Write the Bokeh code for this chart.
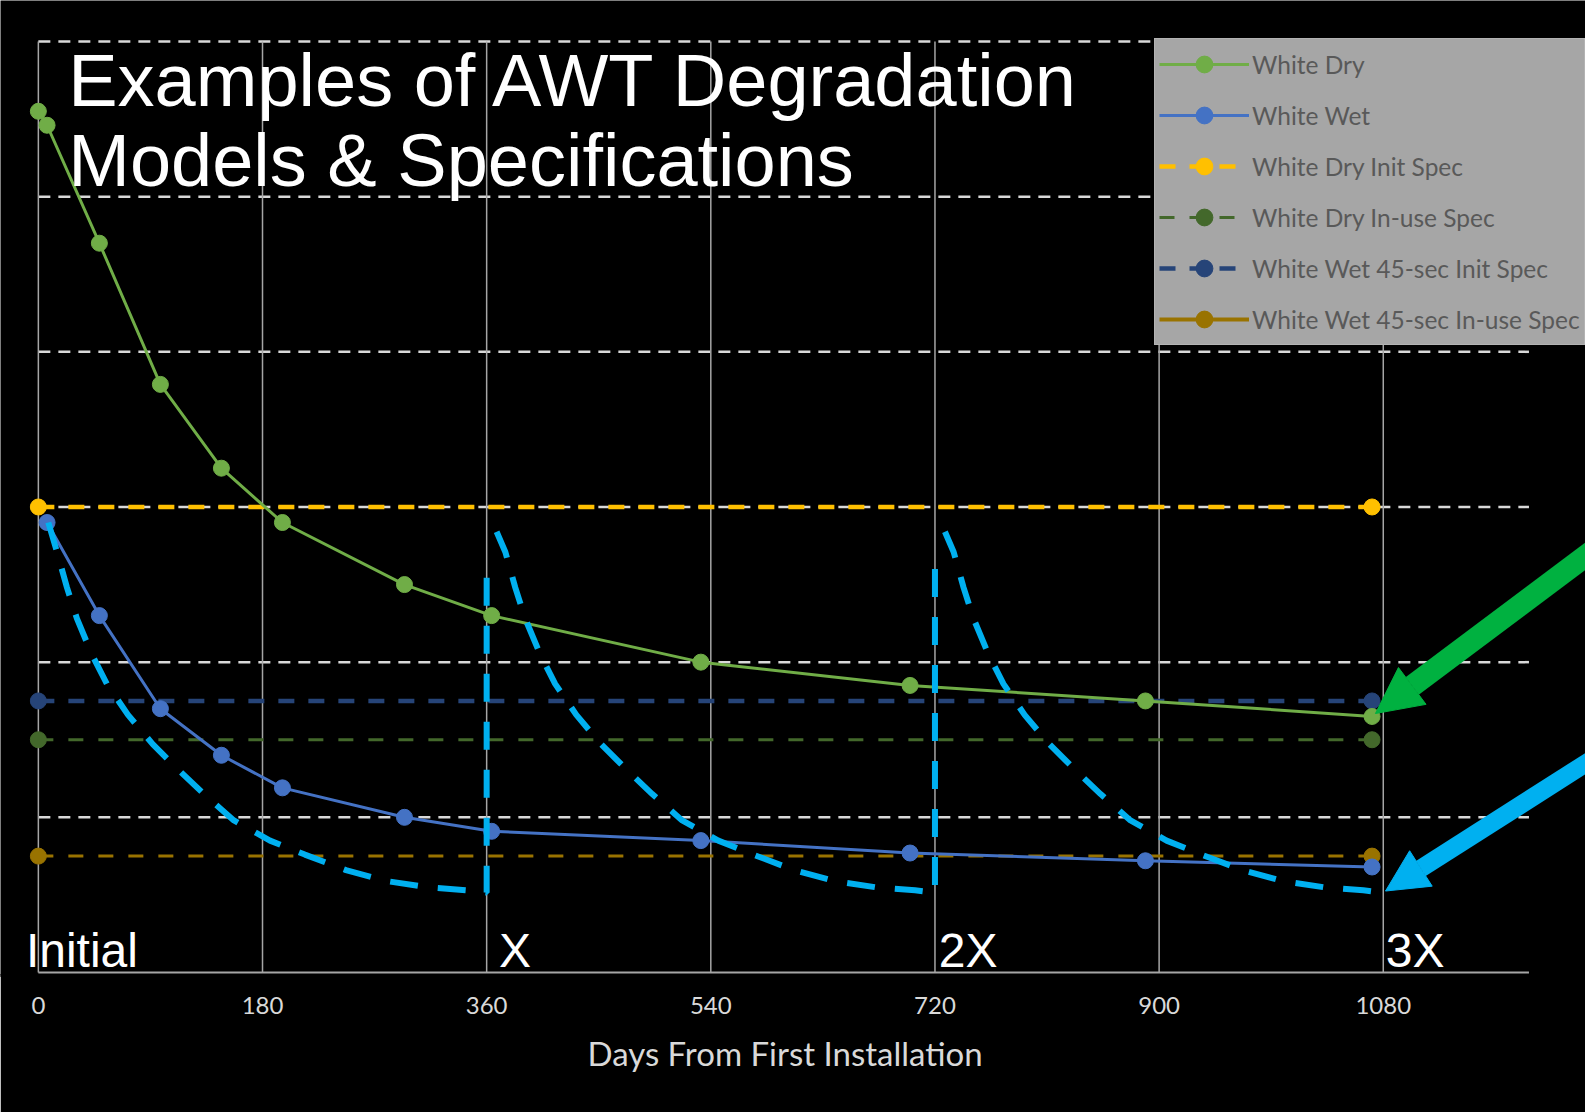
from bokeh.plotting import figure
from bokeh.models import (Range1d, FixedTicker, Legend, LegendItem, Arrow, NormalHead, Label,
                          ColumnDataSource, Title)
from bokeh.embed import file_html
from bokeh.resources import INLINE

# ---------------- data ----------------
dry_days = [0, 7, 49, 98, 147, 196, 294, 364, 532, 700, 889, 1071]
white_dry = [555, 546, 470, 379, 325, 290, 250, 230, 200, 185, 175, 165]
wet_days = [7, 49, 98, 147, 196, 294, 364, 532, 700, 889, 1071]
white_wet = [290, 230, 170, 140, 119, 100, 91, 85, 77, 72, 68]

spec_days = [0, 1071]
dry_init_spec = 300
dry_inuse_spec = 150
wet_init_spec = 175
wet_inuse_spec = 75

tick_days = [0, 180, 360, 540, 720, 900, 1080]
tick_labels = ["0", "180", "360", "540", "720", "900", "1080"]
grid_values = [100, 200, 300, 400, 500, 600]
x_title = "Days From First Installation"

# degradation model sketch (repeated after each reset)
reset_days = [0, 360, 720]
reset_start_vals = [290, 284, 284]
model_days = [8, 15, 23, 31, 43, 55, 72, 92, 112, 133, 157, 186, 214, 247, 279, 312, 344, 360]
model_vals = [290, 271, 248, 228, 205, 186, 166, 147, 131, 115, 98, 85, 76, 66, 59, 55, 53, 51.5]
model_reset_top = 260

phase_labels = ["Initial", "X", "2X", "3X"]
phase_days = [-10, 370, 723, 1082]
phase_y = 14.5

title_lines = ["Examples of AWT Degradation", "Models & Specifications"]
title_x = 24
title_y = [574.6, 523.0]

# arrows: (x_start, y_start, x_end, y_end)
green_arrow = (1254.4, 275.5, 1073.7, 166.9)
cyan_arrow = (1254.4, 140.8, 1081.8, 52.5)

# ---------------- figure ----------------
X0, X1 = -30.4, 1242.4
Y0, Y1 = -1.933, 626.4
AX_END = 1197
p = figure(width=1585, height=1112, x_range=Range1d(X0, X1), y_range=Range1d(Y0, Y1),
           output_backend="svg", toolbar_location=None, y_axis_location=None,
           min_border_left=0, min_border_right=0, min_border_top=0, min_border_bottom=137)
p.background_fill_color = "black"
p.border_fill_color = "black"
p.outline_line_color = None
p.grid.visible = False

ax = p.xaxis[0]
ax.ticker = FixedTicker(ticks=tick_days)
ax.major_label_overrides = {d: s for d, s in zip(tick_days, tick_labels)}
ax.axis_line_color = "black"
ax.axis_line_width = 3
ax.major_tick_line_color = None
ax.minor_tick_line_color = None
ax.major_label_text_color = "#d9d9d9"
ax.major_label_text_font = "Lato"
ax.major_label_text_font_size = "24px"
ax.major_label_standoff = 15

# x-axis title, centred under the plotted day range
p.add_layout(Title(text=x_title, align="left", offset=587, standoff=28, text_font="Lato",
                   text_font_size="33px", text_font_style="normal", text_color="#d9d9d9"), "below")

# axis base line and grid lines
p.segment(x0=0, x1=AX_END, y0=0, y1=0, line_color="#a6a6a6", line_width=2)
p.segment(x0=0, x1=AX_END, y0=grid_values, y1=grid_values, line_color="#d9d9d9",
          line_width=2.5, line_dash="12 8")
p.segment(x0=tick_days, x1=tick_days, y0=0, y1=600, line_color="#a6a6a6", line_width=1.5)

# spec lines
def spec(val, color, width, dash):
    r_line = p.line(spec_days, [val] * len(spec_days), line_color=color, line_width=width, line_dash=dash)
    r_pt = p.scatter(spec_days, [val] * len(spec_days), size=16, fill_color=color, line_color=color)
    return r_line, r_pt

s1 = spec(dry_init_spec, "#ffc000", 4.5, "16 14")
s2 = spec(dry_inuse_spec, "#43682b", 3, "15 15")
s3 = spec(wet_init_spec, "#264478", 4.5, "16 14")
s4 = spec(wet_inuse_spec, "#997300", 3, "15 15")

# series
d_line = p.line(dry_days, white_dry, line_color="#70ad47", line_width=3)
d_pts = p.scatter(dry_days, white_dry, size=16, fill_color="#70ad47", line_color="#70ad47")
w_line = p.line(wet_days, white_wet, line_color="#4472c4", line_width=3)
w_pts = p.scatter(wet_days, white_wet, size=16, fill_color="#4472c4", line_color="#4472c4")

# legend-only glyph for the last item (drawn solid in the legend, nothing on the plot)
nan = float("nan")
leg_src = ColumnDataSource(dict(x=spec_days, y=[nan] * len(spec_days)))
s4_leg = p.line("x", "y", source=leg_src, line_color="#997300", line_width=4)

# model sketch paths
xs, ys = [], []
for i, off in enumerate(reset_days):
    px = [d + off for d in model_days]
    py = [reset_start_vals[i]] + list(model_vals[1:])
    if i < len(reset_days) - 1:
        px.append(model_days[-1] + off)
        py.append(model_reset_top)
    xs.append(px)
    ys.append(py)
p.multi_line(xs, ys, line_color="#00b0f0", line_width=6, line_dash="28 20")

# legend
legend = Legend(items=[
    LegendItem(label="White Dry", renderers=[d_line, d_pts]),
    LegendItem(label="White Wet", renderers=[w_line, w_pts]),
    LegendItem(label="White Dry Init Spec", renderers=[s1[0], s1[1]]),
    LegendItem(label="White Dry In-use Spec", renderers=[s2[0], s2[1]]),
    LegendItem(label="White Wet 45-sec Init Spec", renderers=[s3[0], s3[1]]),
    LegendItem(label="White Wet 45-sec In-use Spec", renderers=[s4_leg, s4[1]]),
], location=(1154, 630))
legend.background_fill_color = "#a6a6a6"
legend.background_fill_alpha = 1
legend.border_line_color = "#bfbfbf"
legend.label_text_font = "Lato"
legend.label_text_font_size = "24.5px"
legend.label_text_color = "#595959"
legend.glyph_width = 90
legend.glyph_height = 42
legend.label_height = 42
legend.spacing = 9
legend.padding = 4
legend.margin = 0
legend.label_standoff = 3
p.add_layout(legend)

# title text
for line, yb in zip(title_lines, title_y):
    p.add_layout(Label(x=title_x, y=yb, text=line, text_color="white", text_font="Liberation Sans",
                       text_font_size="74px", text_baseline="alphabetic"))

# phase labels
for lab, d in zip(phase_labels, phase_days):
    p.add_layout(Label(x=d, y=phase_y, text=lab, text_color="white", text_font="Liberation Sans",
                       text_font_size="48px", text_baseline="alphabetic"))

# arrows
for (xa, ya, xb, yb), col, w, hs in [(green_arrow, "#00b140", 22, 46), (cyan_arrow, "#00b0f0", 18, 42)]:
    p.add_layout(Arrow(x_start=xa, y_start=ya, x_end=xb, y_end=yb, line_color=col, line_width=w,
                       end=NormalHead(size=hs, fill_color=col, line_color=col)))

open("out.html", "w").write(file_html(p, INLINE))
